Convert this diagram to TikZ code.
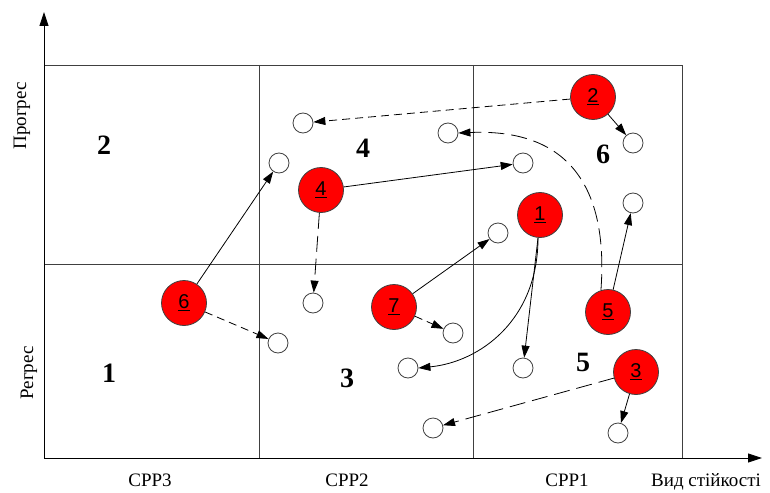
\documentclass[tikz,border=0pt]{standalone}
\usepackage{fontspec}
\setmainfont{Liberation Serif}
\newfontfamily\numfont{Liberation Sans}
\usetikzlibrary{arrows.meta}
\begin{document}
\begin{tikzpicture}[x=1pt,y=-1pt,
  gridline/.style={line width=0.8pt, draw=black!75},
  axisline/.style={line width=0.9pt, -{Triangle[length=14pt,width=9pt]}},
  redc/.style={circle, fill=red, draw=black!75, line width=0.8pt, minimum size=45pt, inner sep=0pt, font=\numfont\fontsize{20}{20}\selectfont},
  whc/.style={circle, fill=white, draw=black!75, line width=0.8pt, minimum size=20pt, inner sep=0pt},
  conn/.style={line width=0.8pt, -{Triangle[length=12pt,width=8pt]}},
  shortdash/.style={dash pattern=on 8pt off 5pt},
  longdash/.style={dash pattern=on 16pt off 7pt},
  zonelbl/.style={font=\bfseries\fontsize{28}{28}\selectfont},
  axlbl/.style={font=\fontsize{19}{19}\selectfont}
]
\useasboundingbox (0,0) rectangle (770,492);
% grid
\draw[gridline] (44,65) rectangle (682,458);
\draw[gridline] (259,65) -- (259,458);
\draw[gridline] (473,65) -- (473,458);
\draw[gridline] (44,264) -- (682,264);
% axes
\coordinate (O) at (44,458);
\coordinate (ytip) at (44,12);
\coordinate (xtip) at (762,458);
\draw[axisline] (O) -- (ytip);
\draw[axisline] (O) -- (xtip);
% axis labels
\node[axlbl, anchor=base] (l3) at (150,486) {CPP3};
\node[axlbl, anchor=base] (l2) at (347,486) {CPP2};
\node[axlbl, anchor=base] (l1) at (567,486) {CPP1};
\node[axlbl, anchor=base] (lx) at (706,486) {Вид стійкості};
\node[axlbl, rotate=90] (lp) at (22,116) {Прогрес};
\node[axlbl, rotate=90] (lr) at (29,373) {Регрес};
% zone labels
\node[zonelbl] (z2) at (104,145) {2};
\node[zonelbl] (z4) at (363,148) {4};
\node[zonelbl] (z6) at (603,154) {6};
\node[zonelbl] (z1) at (109,373) {1};
\node[zonelbl] (z3) at (347,378) {3};
\node[zonelbl] (z5) at (583,362) {5};
% white circles
\node[whc] (a) at (303,123) {};
\node[whc] (b) at (279,163) {};
\node[whc] (c) at (448,133) {};
\node[whc] (d) at (523,163) {};
\node[whc] (e) at (633,143) {};
\node[whc] (f) at (633,203) {};
\node[whc] (g) at (498,233) {};
\node[whc] (h) at (313,303) {};
\node[whc] (i) at (278,343) {};
\node[whc] (j) at (453,333) {};
\node[whc] (k) at (408,368) {};
\node[whc] (l) at (523,368) {};
\node[whc] (m) at (433,428) {};
\node[whc] (n) at (618,433) {};
% red circles
\node[redc] (r2) at (593,97) {\underline{2}};
\node[redc] (r4) at (321,190) {\underline{4}};
\node[redc] (r1) at (540,215) {\underline{1}};
\node[redc] (r6) at (184,303) {\underline{6}};
\node[redc] (r7) at (394,307) {\underline{7}};
\node[redc] (r5) at (608,312) {\underline{5}};
\node[redc] (r3) at (636,372) {\underline{3}};
% connectors
\draw[conn, shortdash] (r2) -- (a);
\draw[conn] (r2) -- (e);
\draw[conn] (r4) -- (d);
\draw[conn, longdash] (r4) -- (h);
\draw[conn] (r6) -- (b);
\draw[conn, shortdash] (r6) -- (i);
\draw[conn] (r7) -- (g);
\draw[conn, shortdash] (r7) -- (j);
\draw[conn] (r1.265) -- (l);
\draw[conn] (r1.265) .. controls (538,320) and (480,362) .. (k.east);
\draw[conn] (r5) -- (f);
\draw[conn, longdash] (r5.108) .. controls (608,195) and (575,128) .. (c.east);
\draw[conn, longdash] (r3) -- (m);
\draw[conn] (r3) -- (n);
\end{tikzpicture}
\end{document}
